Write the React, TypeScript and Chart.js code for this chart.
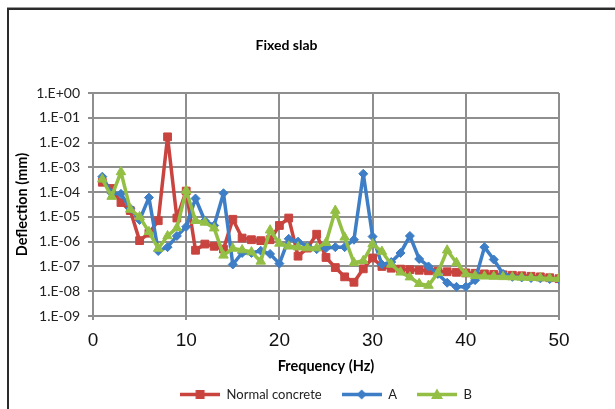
import React, { useEffect, useRef } from 'react';
import { Chart, registerables } from 'chart.js';

Chart.register(...registerables);

// ---- data ----
const frequencies = [
  1, 2, 3, 4, 5, 6, 7, 8, 9, 10, 11, 12, 13, 14, 15, 16, 17, 18, 19, 20, 21, 22, 23, 24, 25,
  26, 27, 28, 29, 30, 31, 32, 33, 34, 35, 36, 37, 38, 39, 40, 41, 42, 43, 44, 45, 46, 47, 48, 49, 50,
];

const normalConcrete = [
  2.5e-4, 1.4e-4, 3.8e-5, 1.8e-5, 1.1e-6, 2.2e-6, 7e-6, 1.7e-2, 9e-6, 1.1e-4,
  4.5e-7, 8e-7, 6.5e-7, 5e-7, 8e-6, 1.4e-6, 1.2e-6, 1.1e-6, 1.2e-6, 4.5e-6,
  9e-6, 2.6e-7, 5.5e-7, 2e-6, 2.3e-7, 9e-8, 3.8e-8, 2.3e-8, 8e-8, 2.2e-7,
  1e-7, 8.5e-8, 7.8e-8, 7.4e-8, 7e-8, 6.7e-8, 6.4e-8, 6.1e-8, 5.8e-8, 5.5e-8,
  5.3e-8, 5e-8, 4.8e-8, 4.6e-8, 4.4e-8, 4.2e-8, 4e-8, 3.8e-8, 3.5e-8, 3.2e-8,
];

const seriesA = [
  4.2e-4, 9e-5, 8.5e-5, 2.2e-5, 7.5e-6, 6e-5, 4.2e-7, 6e-7, 1.7e-6, 4e-6,
  5.5e-5, 7e-6, 4.5e-6, 9e-5, 1.2e-7, 3.5e-7, 3.5e-7, 4.3e-7, 3.2e-7, 1.3e-7,
  1.3e-6, 1e-6, 6.5e-7, 5e-7, 5.5e-7, 6e-7, 6e-7, 1.2e-6, 5.5e-4, 1.6e-6,
  1.2e-7, 1.5e-7, 3.5e-7, 1.7e-6, 2e-7, 1e-7, 5e-8, 2.2e-8, 1.5e-8, 1.5e-8,
  2.8e-8, 6e-7, 1.9e-7, 5e-8, 3.8e-8, 3.6e-8, 3.4e-8, 3.3e-8, 3.1e-8, 3e-8,
];

const seriesB = [
  3.3e-4, 6.6e-5, 6.5e-4, 2e-5, 1e-5, 2.5e-6, 5.3e-7, 1.7e-6, 3.6e-6, 1.15e-4,
  7e-6, 6e-6, 3.5e-6, 2.8e-7, 5.3e-7, 4.6e-7, 3.8e-7, 1.6e-7, 2.9e-6, 8.5e-7,
  6.5e-7, 6e-7, 5.5e-7, 5.5e-7, 9e-7, 1.8e-5, 1.5e-6, 1.4e-7, 1.7e-7, 8e-7,
  4e-7, 1.2e-7, 5.8e-8, 3.7e-8, 2e-8, 1.7e-8, 5.5e-8, 4.5e-7, 1.4e-7, 5e-8,
  4.2e-8, 4e-8, 3.9e-8, 3.8e-8, 3.7e-8, 3.6e-8, 3.5e-8, 3.4e-8, 3.3e-8, 3.2e-8,
];

const xTickValues = [0, 10, 20, 30, 40, 50];
const yTickValues = [1, 1e-1, 1e-2, 1e-3, 1e-4, 1e-5, 1e-6, 1e-7, 1e-8, 1e-9];
const yTickLabels = ['1.E+00', '1.E-01', '1.E-02', '1.E-03', '1.E-04', '1.E-05', '1.E-06', '1.E-07', '1.E-08', '1.E-09'];

const seriesNames = ['Normal concrete', 'A', 'B'];
const seriesColors = ['#C9443F', '#3D7EC6', '#93BF45'];
const seriesMarkers = ['rect', 'rectRot', 'triangle'];

const TITLE = 'Fixed slab';
const X_TITLE = 'Frequency (Hz)';
const Y_TITLE = 'Deflection (mm)';

const GRID = '#8E8E8E';

function makeLegendIcon(color: string, marker: string): HTMLCanvasElement {
  const c = document.createElement('canvas');
  c.width = 40;
  c.height = 13;
  const ctx = c.getContext('2d')!;
  const cy = 6.5;
  ctx.strokeStyle = color;
  ctx.lineWidth = 3.5;
  ctx.beginPath();
  ctx.moveTo(0, cy);
  ctx.lineTo(40, cy);
  ctx.stroke();
  ctx.fillStyle = color;
  ctx.beginPath();
  if (marker === 'rect') {
    ctx.rect(15.5, cy - 4.5, 9, 9);
  } else if (marker === 'rectRot') {
    ctx.moveTo(20, cy - 5);
    ctx.lineTo(25, cy);
    ctx.lineTo(20, cy + 5);
    ctx.lineTo(15, cy);
    ctx.closePath();
  } else {
    ctx.moveTo(20, cy - 6);
    ctx.lineTo(26, cy + 4.5);
    ctx.lineTo(14, cy + 4.5);
    ctx.closePath();
  }
  ctx.fill();
  return c;
}

export default function App() {
  const canvasRef = useRef<HTMLCanvasElement | null>(null);

  useEffect(() => {
    const canvas = canvasRef.current;
    if (!canvas) return;
    const icons = seriesColors.map((c, i) => makeLegendIcon(c, seriesMarkers[i]));
    const seriesValues = [normalConcrete, seriesA, seriesB];

    const datasets = seriesValues.map((vals, i) => ({
      label: seriesNames[i],
      data: frequencies.map((f, j) => ({ x: f, y: vals[j] })),
      borderColor: seriesColors[i],
      backgroundColor: seriesColors[i],
      borderWidth: 3.5,
      borderJoinStyle: 'round',
      borderCapStyle: 'round',
      pointStyle: seriesMarkers[i],
      pointRadius: i === 0 ? 5.5 : i === 1 ? 4.5 : 5.5,
      pointBorderWidth: 1,
      pointBorderColor: seriesColors[i],
      pointBackgroundColor: seriesColors[i],
      tension: 0,
      order: 3 - i,
    }));

    const chart = new Chart(canvas, {
      type: 'line',
      data: { datasets },
      options: {
        animation: false,
        responsive: false,
        devicePixelRatio: 1,
        layout: { padding: { left: 14, right: 56, top: 0, bottom: 0 } },
        plugins: {
          tooltip: { enabled: false },
          title: {
            display: true,
            text: TITLE,
            color: '#000',
            font: { family: 'Lato', size: 14, weight: 'bold' },
            padding: { top: 36.6, bottom: 39.6 },
          },
          legend: {
            display: true,
            position: 'bottom',
            fullSize: false,
            maxHeight: 41,
            labels: {
              usePointStyle: true,
              pointStyleWidth: 40,
              boxHeight: 13,
              padding: 20,
              color: '#222',
              font: { family: 'Lato', size: 13 },
              generateLabels: (ch: any) =>
                ch.data.datasets.map((ds: any, i: number) => ({
                  text: ds.label,
                  pointStyle: icons[i],
                  fillStyle: ds.borderColor,
                  strokeStyle: ds.borderColor,
                  lineWidth: 0,
                  hidden: false,
                  datasetIndex: i,
                  fontColor: '#222',
                })),
            },
          },
        },
        scales: {
          x: {
            type: 'linear',
            min: 0,
            max: 50,
            afterBuildTicks: (s: any) => {
              s.ticks = xTickValues.map((v) => ({ value: v }));
            },
            afterFit: (s: any) => {
              s.height = 52;
            },
            ticks: {
              color: '#111',
              padding: 9,
              maxRotation: 0,
              font: { family: 'Liberation Sans', size: 19 },
              callback: (v: any) => String(v),
            },
            grid: {
              color: GRID,
              lineWidth: 2,
              drawTicks: true,
              tickLength: 4,
              tickColor: GRID,
            },
            border: { display: true, color: GRID, width: 2 },
            title: {
              display: true,
              text: X_TITLE,
              color: '#000',
              font: { family: 'Lato', size: 14.5, weight: 'bold' },
              padding: { top: 0, bottom: -7.5 },
            },
          },
          y: {
            type: 'logarithmic',
            min: 1e-9,
            max: 1,
            afterBuildTicks: (s: any) => {
              s.ticks = yTickValues.map((v) => ({ value: v }));
            },
            afterFit: (s: any) => {
              s.width = 79;
            },
            ticks: {
              color: '#222',
              padding: 8,
              font: { family: 'Lato', size: 14 },
              callback: (v: any) => {
                const idx = yTickValues.findIndex((t) => Math.abs(Math.log10(t) - Math.log10(v)) < 1e-6);
                return idx >= 0 ? yTickLabels[idx] : '';
              },
            },
            grid: {
              color: GRID,
              lineWidth: 2,
              drawTicks: true,
              tickLength: 5,
              tickColor: GRID,
            },
            border: { display: true, color: GRID, width: 2 },
            title: {
              display: true,
              text: Y_TITLE,
              color: '#000',
              font: { family: 'Lato', size: 14.5, weight: 'bold' },
              padding: { top: 0, bottom: 0 },
            },
          },
        },
      },
    } as any);

    return () => {
      chart.destroy();
    };
  }, []);

  return (
    <div
      style={{
        position: 'fixed',
        left: 0,
        top: 0,
        width: 615,
        height: 409,
        overflow: 'hidden',
        background: '#fff',
      }}
    >
      <div
        style={{
          position: 'absolute',
          left: 7,
          top: 8,
          width: 700,
          height: 500,
          border: '2px solid #2b2b2b',
          boxShadow: '0 -1px 0 #9a9a9a',
        }}
      />
      <canvas
        ref={canvasRef}
        width={615}
        height={409}
        style={{ position: 'absolute', left: 0, top: 0, width: 615, height: 409 }}
      />
    </div>
  );
}
